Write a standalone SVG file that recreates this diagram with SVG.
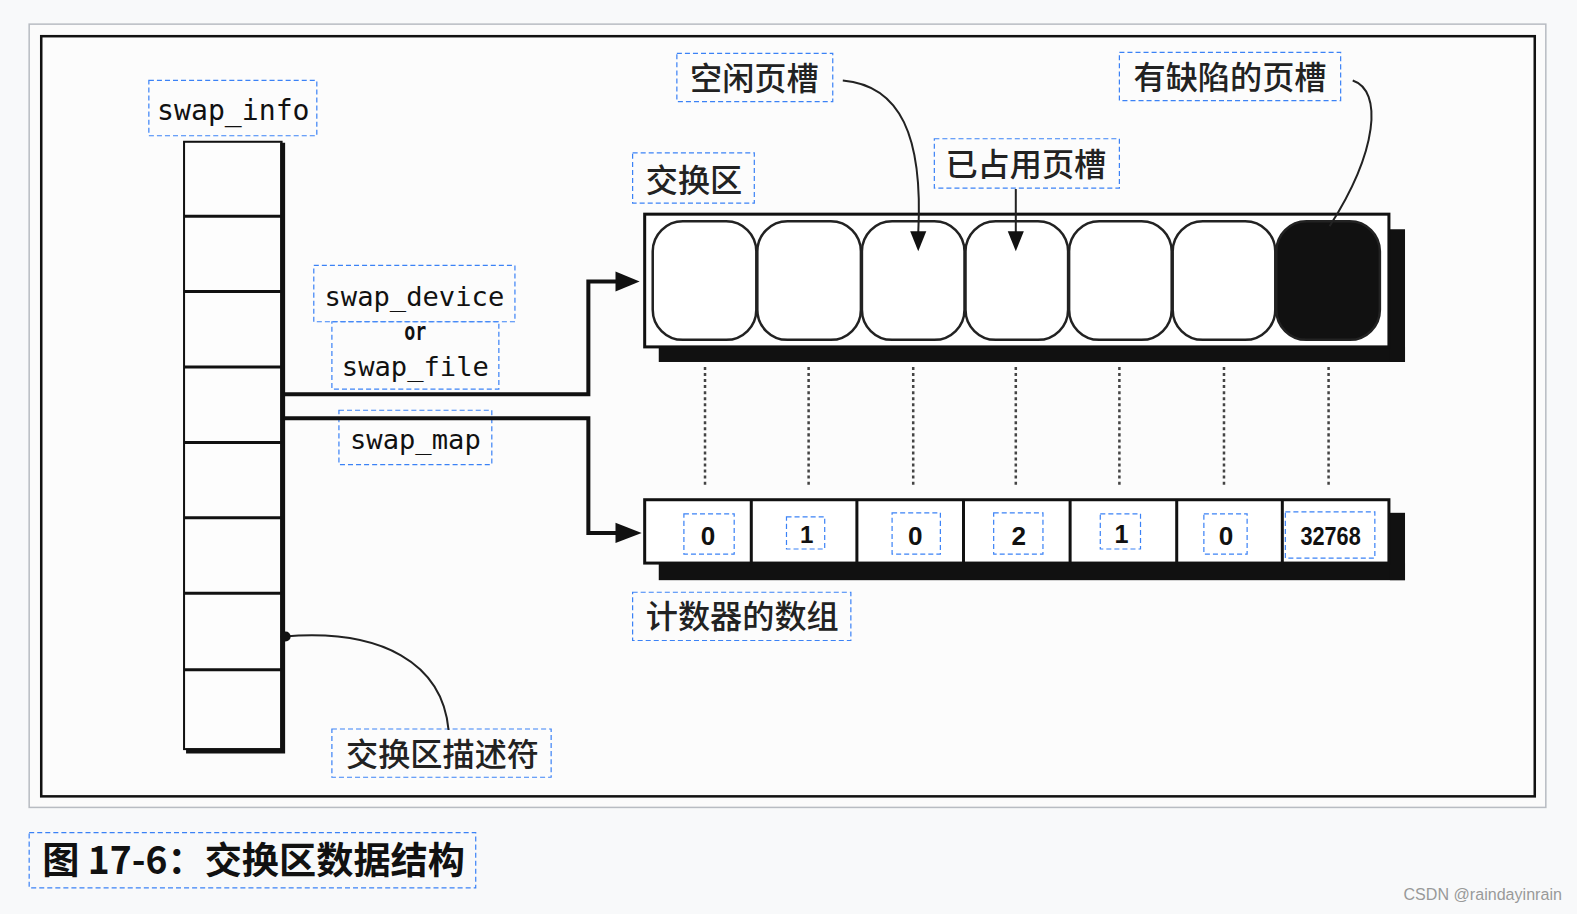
<svg xmlns="http://www.w3.org/2000/svg" width="1577" height="914" viewBox="0 0 1577 914">
<style>
.lbl{fill:none;stroke:#3b82f6;stroke-width:1.2;stroke-dasharray:5,3}
.mono{font-family:"DejaVu Sans Mono","Liberation Mono",monospace;fill:#111;text-anchor:middle}
.cjk{font-family:"Noto Sans CJK SC","Noto Sans",sans-serif;fill:#222;text-anchor:middle;font-weight:500}
.num{font-family:"Liberation Sans Narrow","Liberation Sans",sans-serif;fill:#111;text-anchor:middle;font-weight:bold}
.ln{fill:none;stroke:#111;stroke-width:4}
.thin{fill:none;stroke:#222;stroke-width:2}
.dot{fill:none;stroke:#444;stroke-width:2.5;stroke-dasharray:3,3}
</style>
<rect x="0" y="0" width="1577" height="914" fill="#f8f9fa"/>
<g transform="scale(1.00574,1.0055)">
<g id="frame">
<rect x="29" y="24" width="1508" height="779" fill="#fbfbfb" stroke="#b8bcc2" stroke-width="1.5"/>
<rect x="41" y="36" width="1485" height="756" fill="#fcfcfc" stroke="#111" stroke-width="2.5"/>
</g>
<g id="swap_info">
<rect class="lbl" x="148" y="80" width="167" height="55"/>
<text class="mono" x="232" y="119" font-size="28">swap_info</text>
<rect x="183" y="141" width="97" height="604" fill="#fdfdfd" stroke="#111" stroke-width="2"/>
<path d="M281,142V747H185" fill="none" stroke="#111" stroke-width="5"/>
<g stroke="#111" stroke-width="3">
<path d="M183,215H280"/><path d="M183,290H280"/><path d="M183,365H280"/><path d="M183,440H280"/><path d="M183,515H280"/><path d="M183,590H280"/><path d="M183,666H280"/>
</g>
</g>
<g id="swap_device">
<rect class="lbl" x="312" y="264" width="200" height="56"/>
<text class="mono" x="412" y="304" font-size="27">swap_device</text>
<text class="mono" x="413" y="338" font-size="24" font-weight="bold" textLength="22" lengthAdjust="spacingAndGlyphs">or</text>
<rect class="lbl" x="330" y="320" width="166" height="67"/>
<text class="mono" x="413" y="374" font-size="27">swap_file</text>
</g>
<g id="swap_map">
<rect class="lbl" x="337" y="408" width="152" height="54"/>
<text class="mono" x="413" y="447" font-size="27">swap_map</text>
</g>
<g id="swap_area">
<rect class="lbl" x="629" y="152" width="121" height="50"/>
<text class="cjk" x="690" y="191" font-size="32">交换区</text>
<rect x="655" y="345" width="742" height="15" fill="#111"/>
<rect x="1382" y="228" width="15" height="132" fill="#111"/>
<rect x="641" y="213" width="740" height="132" fill="#fff" stroke="#111" stroke-width="3"/>
<g fill="#fff" stroke="#222" stroke-width="2.5">
<rect x="649" y="220" width="103" height="118" rx="30"/>
<rect x="753" y="220" width="103" height="118" rx="30"/>
<rect x="857" y="220" width="102" height="118" rx="30"/>
<rect x="960" y="220" width="102" height="118" rx="30"/>
<rect x="1063" y="220" width="102" height="118" rx="30"/>
<rect x="1166" y="220" width="102" height="118" rx="30"/>
<rect x="1269" y="220" width="103" height="118" rx="30" fill="#111"/>
</g>
</g>
<g id="free_slot">
<rect class="lbl" x="673" y="53" width="155" height="48"/>
<text class="cjk" x="750" y="90" font-size="32">空闲页槽</text>
</g>
<g id="used_slot">
<rect class="lbl" x="929" y="138" width="184" height="49"/>
<text class="cjk" x="1020" y="175" font-size="32">已占用页槽</text>
</g>
<g id="bad_slot">
<rect class="lbl" x="1113" y="52" width="220" height="48"/>
<text class="cjk" x="1223" y="89" font-size="32">有缺陷的页槽</text>
</g>
<g id="counters">
<rect x="655" y="560" width="742" height="17" fill="#111"/>
<rect x="1382" y="510" width="15" height="67" fill="#111"/>
<rect x="641" y="497" width="740" height="63" fill="#fff" stroke="#111" stroke-width="3"/>
<g stroke="#111" stroke-width="3">
<path d="M747,497V560"/><path d="M852,497V560"/><path d="M958,497V560"/><path d="M1064,497V560"/><path d="M1170,497V560"/><path d="M1275,497V560"/>
</g>
<rect class="lbl" x="680" y="511" width="50" height="40"/>
<rect class="lbl" x="782" y="514" width="38" height="32"/>
<rect class="lbl" x="887" y="510" width="48" height="41"/>
<rect class="lbl" x="988" y="510" width="49" height="41"/>
<rect class="lbl" x="1094" y="511" width="40" height="35"/>
<rect class="lbl" x="1197" y="511" width="43" height="40"/>
<rect class="lbl" x="1278" y="509" width="89" height="46"/>
<text class="num" x="704" y="542" font-size="26">0</text>
<text class="num" x="802" y="540" font-size="24">1</text>
<text class="num" x="910" y="542" font-size="26">0</text>
<text class="num" x="1013" y="542" font-size="26">2</text>
<text class="num" x="1115" y="540" font-size="25">1</text>
<text class="num" x="1219" y="542" font-size="26">0</text>
<text class="num" x="1323" y="542" font-size="26" textLength="60" lengthAdjust="spacingAndGlyphs">32768</text>
<rect class="lbl" x="629" y="589" width="217" height="48"/>
<text class="cjk" x="738" y="625" font-size="32">计数器的数组</text>
</g>
<g id="descriptor">
<rect class="lbl" x="330" y="725" width="218" height="48"/>
<text class="cjk" x="440" y="762" font-size="32">交换区描述符</text>
</g>
<g id="connectors">
<path class="ln" d="M282,392H585V280H615"/>
<path d="M612,270L636,280L612,290z" fill="#111"/>
<path class="ln" d="M282,416H585V530H615"/>
<path d="M612,520L638,530L612,540z" fill="#111"/>
<path class="thin" d="M838,80C895,85 918,135 913,232"/>
<path d="M905,230L913,250L921,230z" fill="#111"/>
<path class="thin" d="M1010,188V232"/>
<path d="M1002,230L1010,250L1018,230z" fill="#111"/>
<path class="thin" d="M1345,80C1375,90 1370,150 1322,225"/>
<path class="thin" d="M283,633C380,625 440,660 446,726"/>
<circle cx="284" cy="633" r="5" fill="#111"/>
<g class="dot">
<path d="M701,365V482"/><path d="M804,365V482"/><path d="M908,365V482"/><path d="M1010,365V482"/><path d="M1113,365V482"/><path d="M1217,365V482"/><path d="M1321,365V482"/>
</g>
</g>
<g id="caption">
<rect class="lbl" x="29" y="828" width="444" height="55"/>
<text x="42" y="869" font-family="Noto Sans CJK SC,sans-serif" font-size="37" font-weight="bold" fill="#111">图 17-6：交换区数据结构</text>
</g>
<text x="1553" y="895" font-family="Liberation Sans,Arial,sans-serif" font-size="16" fill="#999" text-anchor="end">CSDN @raindayinrain</text>
</g>
</svg>
